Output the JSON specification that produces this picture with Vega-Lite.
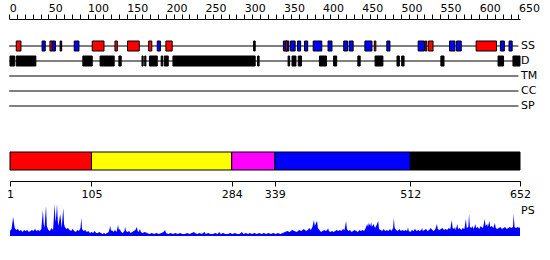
{
  "$schema": "https://vega.github.io/schema/vega-lite/v6.json",
  "padding": {"top": 2, "left": 0, "right": 0, "bottom": 0},
  "background": "white",
  "config": {"view": {"stroke": null}, "font": "DejaVu Sans"},
  "spacing": 30,
  "bounds": "flush",
  "resolve": {"scale": {"x": "independent", "y": "independent", "color": "independent"}, "axis": {"x": "independent", "y": "independent"}},
  "vconcat": [
    {
      "width": 550,
      "height": 90,
      "resolve": {"axis": {"x": "independent"}},
      "layer": [
        {
          "data": {"values": [
            {"track": "SS", "start": 0, "end": 650},
            {"track": "D", "start": 0, "end": 650},
            {"track": "TM", "start": 0, "end": 650},
            {"track": "CC", "start": 0, "end": 650},
            {"track": "SP", "start": 0, "end": 650}
          ]},
          "mark": {"type": "rule", "color": "black", "strokeWidth": 1},
          "encoding": {
            "x": {
              "field": "start", "type": "quantitative",
              "scale": {"domain": [0, 652], "range": [9.2, 520], "nice": false, "zero": false},
              "axis": {
                "orient": "top", "title": null, "grid": false, "domain": true, "ticks": true, "labels": false, "offset": 12,
                "values": [0,10,20,30,40,50,60,70,80,90,100,110,120,130,140,150,160,170,180,190,200,210,220,230,240,250,260,270,280,290,300,310,320,330,340,350,360,370,380,390,400,410,420,430,440,450,460,470,480,490,500,510,520,530,540,550,560,570,580,590,600,610,620,630,640,650],
                "tickSize": 5, "tickWidth": 1, "tickColor": "black", "domainColor": "black", "domainWidth": 1
              }
            },
            "x2": {"field": "end"},
            "y": {"field": "track", "type": "nominal", "scale": {"type": "point", "domain": ["SS", "D", "TM", "CC", "SP"], "padding": 1}, "axis": null}
          }
        },
        {
          "data": {"values": [
            {"track": "SS", "start": 9, "end": 15, "type": "H"},
            {"track": "SS", "start": 42, "end": 46, "type": "E"},
            {"track": "SS", "start": 52, "end": 55, "type": "H"},
            {"track": "SS", "start": 55, "end": 59, "type": "E"},
            {"track": "SS", "start": 65, "end": 67, "type": "C"},
            {"track": "SS", "start": 83, "end": 89, "type": "E"},
            {"track": "SS", "start": 106, "end": 121, "type": "H"},
            {"track": "SS", "start": 135, "end": 138, "type": "H"},
            {"track": "SS", "start": 151, "end": 166, "type": "H"},
            {"track": "SS", "start": 178, "end": 182, "type": "H"},
            {"track": "SS", "start": 189, "end": 193, "type": "E"},
            {"track": "SS", "start": 200, "end": 208, "type": "H"},
            {"track": "SS", "start": 312, "end": 314, "type": "C"},
            {"track": "SS", "start": 350, "end": 357, "type": "E"},
            {"track": "SS", "start": 353, "end": 355, "type": "H"},
            {"track": "SS", "start": 359, "end": 365, "type": "E"},
            {"track": "SS", "start": 368, "end": 372, "type": "E"},
            {"track": "SS", "start": 377, "end": 381, "type": "E"},
            {"track": "SS", "start": 388, "end": 399, "type": "E"},
            {"track": "SS", "start": 407, "end": 412, "type": "E"},
            {"track": "SS", "start": 427, "end": 432, "type": "E"},
            {"track": "SS", "start": 434, "end": 439, "type": "E"},
            {"track": "SS", "start": 454, "end": 463, "type": "E"},
            {"track": "SS", "start": 466, "end": 468, "type": "H"},
            {"track": "SS", "start": 482, "end": 486, "type": "E"},
            {"track": "SS", "start": 522, "end": 530, "type": "E"},
            {"track": "SS", "start": 531, "end": 533, "type": "H"},
            {"track": "SS", "start": 535, "end": 541, "type": "H"},
            {"track": "SS", "start": 562, "end": 569, "type": "E"},
            {"track": "SS", "start": 571, "end": 577, "type": "E"},
            {"track": "SS", "start": 596, "end": 622, "type": "H"},
            {"track": "SS", "start": 627, "end": 632, "type": "E"},
            {"track": "SS", "start": 638, "end": 642, "type": "E"},
            {"track": "D", "start": 1, "end": 7, "type": "D"},
            {"track": "D", "start": 9, "end": 34, "type": "D"},
            {"track": "D", "start": 94, "end": 106, "type": "D"},
            {"track": "D", "start": 116, "end": 134, "type": "D"},
            {"track": "D", "start": 140, "end": 143, "type": "D"},
            {"track": "D", "start": 169.5, "end": 171, "type": "D"},
            {"track": "D", "start": 173, "end": 174.5, "type": "D"},
            {"track": "D", "start": 179, "end": 189, "type": "D"},
            {"track": "D", "start": 194, "end": 196, "type": "D"},
            {"track": "D", "start": 198, "end": 203, "type": "D"},
            {"track": "D", "start": 209, "end": 314, "type": "D"},
            {"track": "D", "start": 317, "end": 319, "type": "D"},
            {"track": "D", "start": 356, "end": 358, "type": "D"},
            {"track": "D", "start": 361, "end": 366, "type": "D"},
            {"track": "D", "start": 369, "end": 373, "type": "D"},
            {"track": "D", "start": 396, "end": 405, "type": "D"},
            {"track": "D", "start": 414, "end": 418, "type": "D"},
            {"track": "D", "start": 445, "end": 448, "type": "D"},
            {"track": "D", "start": 467, "end": 477, "type": "D"},
            {"track": "D", "start": 495, "end": 498, "type": "D"},
            {"track": "D", "start": 501, "end": 504, "type": "D"},
            {"track": "D", "start": 551, "end": 555, "type": "D"},
            {"track": "D", "start": 624, "end": 631, "type": "D"},
            {"track": "D", "start": 643, "end": 652, "type": "D"}
          ]},
          "mark": {"type": "bar", "size": 10, "stroke": "black", "strokeWidth": 1},
          "encoding": {
            "x": {"field": "start", "type": "quantitative", "axis": null},
            "x2": {"field": "end"},
            "y": {"field": "track", "type": "nominal"},
            "color": {"field": "type", "type": "nominal", "scale": {"domain": ["H", "E", "C", "D"], "range": ["#ff0000", "#0000ff", "#000000", "#000000"]}, "legend": null}
          }
        },
        {
          "data": {"values": [
            {"track": "SS", "pos": 652},
            {"track": "D", "pos": 652},
            {"track": "TM", "pos": 652},
            {"track": "CC", "pos": 652},
            {"track": "SP", "pos": 652}
          ]},
          "mark": {"type": "text", "align": "left", "baseline": "middle", "dx": 1, "fontSize": 11, "font": "DejaVu Sans", "color": "black"},
          "encoding": {
            "x": {
              "field": "pos", "type": "quantitative",
              "axis": {
                "orient": "top", "title": null, "grid": false, "domain": false, "ticks": false, "labels": true, "offset": 12,
                "values": [0,50,100,150,200,250,300,350,400,450,500,550,600,650], "format": "d",
                "labelColor": "black", "labelFontSize": 11, "labelFont": "DejaVu Sans", "labelAlign": "left",
                "labelPadding": 6, "labelOverlap": false, "labelBound": false, "labelFlush": false
              }
            },
            "y": {"field": "track", "type": "nominal"},
            "text": {"field": "track"}
          }
        }
      ]
    },
    {
      "bounds": "flush",
      "spacing": 33,
      "resolve": {"scale": {"x": "independent", "y": "independent", "color": "independent"}, "axis": {"x": "independent", "y": "independent"}},
      "vconcat": [
        {
          "width": 550,
          "height": 20,
          "data": {"values": [
            {"name": "d1", "start": 1, "end": 105},
            {"name": "d2", "start": 105, "end": 284},
            {"name": "d3", "start": 284, "end": 339},
            {"name": "d4", "start": 339, "end": 512},
            {"name": "d5", "start": 512, "end": 652}
          ]},
          "mark": {"type": "bar", "stroke": "black", "strokeWidth": 1},
          "encoding": {
            "x": {
              "field": "start", "type": "quantitative",
              "scale": {"domain": [1, 652], "range": [10, 520], "nice": false, "zero": false},
              "axis": {
                "orient": "bottom", "title": null, "grid": false, "offset": 10,
                "values": [1, 105, 284, 339, 512, 652], "format": "d",
                "tickSize": 5, "tickColor": "black", "domainColor": "black",
                "labelColor": "black", "labelFontSize": 11, "labelFont": "DejaVu Sans",
                "labelPadding": 2, "labelOverlap": false, "labelBound": false, "labelFlush": false
              }
            },
            "x2": {"field": "end"},
            "color": {"field": "name", "type": "nominal", "scale": {"domain": ["d1", "d2", "d3", "d4", "d5"], "range": ["#ff0000", "#ffff00", "#ff00ff", "#0000ff", "#000000"]}, "legend": null}
          }
        },
        {
          "width": 550,
          "height": 32,
          "layer": [
            {
              "data": {"values": [
                {"r":1,"s":5},{"r":3,"s":7},{"r":5,"s":19},{"r":7,"s":8},{"r":9,"s":6},{"r":11,"s":7},{"r":13,"s":5},{"r":15,"s":6},{"r":17,"s":4},{"r":19,"s":6},{"r":21,"s":5},{"r":23,"s":6},{"r":25,"s":4},{"r":27,"s":5},{"r":29,"s":6},{"r":31,"s":5},{"r":33,"s":7},{"r":35,"s":5},{"r":37,"s":6},{"r":39,"s":5},{"r":41,"s":7},{"r":43,"s":26},{"r":44,"s":12},{"r":45,"s":8},{"r":47,"s":30},{"r":48,"s":10},{"r":50,"s":6},{"r":52,"s":5},{"r":54,"s":8},{"r":56,"s":6},{"r":58,"s":32},{"r":59,"s":14},{"r":60,"s":20},{"r":61,"s":32},{"r":62,"s":15},{"r":63,"s":10},{"r":65,"s":22},{"r":66,"s":16},{"r":67,"s":8},{"r":69,"s":28},{"r":70,"s":12},{"r":71,"s":9},{"r":73,"s":7},{"r":75,"s":8},{"r":77,"s":6},{"r":79,"s":5},{"r":81,"s":7},{"r":83,"s":5},{"r":85,"s":4},{"r":87,"s":6},{"r":89,"s":5},{"r":91,"s":8},{"r":92,"s":18},{"r":93,"s":7},{"r":95,"s":5},{"r":97,"s":6},{"r":99,"s":4},{"r":101,"s":5},{"r":103,"s":3},{"r":105,"s":4},{"r":107,"s":3},{"r":109,"s":5},{"r":111,"s":3},{"r":113,"s":3},{"r":115,"s":4},{"r":117,"s":3},{"r":119,"s":2},{"r":121,"s":3},{"r":123,"s":2},{"r":125,"s":3},{"r":127,"s":4},{"r":129,"s":10},{"r":130,"s":5},{"r":131,"s":6},{"r":133,"s":4},{"r":135,"s":6},{"r":137,"s":4},{"r":139,"s":11},{"r":140,"s":6},{"r":141,"s":7},{"r":143,"s":4},{"r":145,"s":3},{"r":147,"s":5},{"r":148,"s":9},{"r":149,"s":5},{"r":151,"s":4},{"r":153,"s":5},{"r":155,"s":3},{"r":157,"s":4},{"r":159,"s":5},{"r":161,"s":6},{"r":163,"s":9},{"r":164,"s":5},{"r":165,"s":4},{"r":167,"s":7},{"r":168,"s":4},{"r":170,"s":3},{"r":173,"s":4},{"r":176,"s":3},{"r":179,"s":2},{"r":182,"s":3},{"r":185,"s":2},{"r":188,"s":3},{"r":191,"s":2},{"r":194,"s":3},{"r":197,"s":4},{"r":199,"s":6},{"r":200,"s":3},{"r":203,"s":2},{"r":206,"s":3},{"r":209,"s":2},{"r":212,"s":3},{"r":215,"s":2},{"r":218,"s":3},{"r":221,"s":2},{"r":224,"s":2},{"r":227,"s":3},{"r":230,"s":2},{"r":233,"s":3},{"r":236,"s":4},{"r":237,"s":3},{"r":240,"s":2},{"r":243,"s":3},{"r":246,"s":2},{"r":249,"s":4},{"r":251,"s":2},{"r":254,"s":3},{"r":257,"s":2},{"r":260,"s":2},{"r":263,"s":3},{"r":266,"s":2},{"r":268,"s":4},{"r":270,"s":2},{"r":273,"s":3},{"r":276,"s":2},{"r":279,"s":2},{"r":282,"s":3},{"r":285,"s":2},{"r":288,"s":3},{"r":291,"s":2},{"r":294,"s":2},{"r":297,"s":4},{"r":299,"s":2},{"r":302,"s":3},{"r":305,"s":2},{"r":307,"s":3},{"r":310,"s":2},{"r":313,"s":3},{"r":316,"s":2},{"r":319,"s":3},{"r":322,"s":2},{"r":325,"s":3},{"r":328,"s":2},{"r":331,"s":3},{"r":334,"s":2},{"r":337,"s":3},{"r":340,"s":2},{"r":343,"s":3},{"r":346,"s":2},{"r":349,"s":3},{"r":352,"s":4},{"r":355,"s":5},{"r":358,"s":4},{"r":361,"s":6},{"r":364,"s":5},{"r":367,"s":4},{"r":370,"s":6},{"r":373,"s":5},{"r":376,"s":7},{"r":379,"s":5},{"r":381,"s":6},{"r":383,"s":8},{"r":385,"s":6},{"r":387,"s":9},{"r":389,"s":16},{"r":390,"s":10},{"r":391,"s":12},{"r":393,"s":15},{"r":394,"s":8},{"r":396,"s":6},{"r":398,"s":4},{"r":400,"s":5},{"r":402,"s":6},{"r":404,"s":5},{"r":406,"s":6},{"r":407,"s":8},{"r":408,"s":5},{"r":410,"s":4},{"r":412,"s":5},{"r":414,"s":4},{"r":416,"s":5},{"r":418,"s":6},{"r":420,"s":5},{"r":422,"s":6},{"r":424,"s":5},{"r":426,"s":7},{"r":428,"s":6},{"r":430,"s":15},{"r":431,"s":7},{"r":433,"s":5},{"r":435,"s":6},{"r":437,"s":4},{"r":439,"s":5},{"r":441,"s":6},{"r":443,"s":5},{"r":445,"s":4},{"r":447,"s":6},{"r":449,"s":5},{"r":451,"s":6},{"r":453,"s":5},{"r":455,"s":8},{"r":457,"s":12},{"r":458,"s":9},{"r":459,"s":13},{"r":461,"s":10},{"r":462,"s":14},{"r":463,"s":9},{"r":465,"s":12},{"r":467,"s":8},{"r":469,"s":11},{"r":471,"s":15},{"r":472,"s":7},{"r":474,"s":6},{"r":476,"s":5},{"r":478,"s":7},{"r":480,"s":5},{"r":482,"s":6},{"r":484,"s":5},{"r":486,"s":7},{"r":488,"s":5},{"r":490,"s":8},{"r":491,"s":18},{"r":492,"s":8},{"r":494,"s":6},{"r":496,"s":5},{"r":498,"s":7},{"r":500,"s":5},{"r":502,"s":6},{"r":504,"s":5},{"r":506,"s":6},{"r":508,"s":5},{"r":509,"s":9},{"r":510,"s":5},{"r":512,"s":4},{"r":514,"s":6},{"r":516,"s":5},{"r":518,"s":7},{"r":520,"s":5},{"r":522,"s":6},{"r":524,"s":5},{"r":526,"s":6},{"r":527,"s":8},{"r":528,"s":5},{"r":530,"s":6},{"r":532,"s":7},{"r":534,"s":5},{"r":536,"s":6},{"r":538,"s":8},{"r":540,"s":6},{"r":542,"s":5},{"r":544,"s":7},{"r":546,"s":12},{"r":547,"s":7},{"r":549,"s":6},{"r":551,"s":7},{"r":553,"s":8},{"r":555,"s":6},{"r":557,"s":7},{"r":559,"s":6},{"r":561,"s":8},{"r":563,"s":7},{"r":565,"s":16},{"r":566,"s":8},{"r":568,"s":7},{"r":569,"s":9},{"r":570,"s":6},{"r":572,"s":12},{"r":573,"s":7},{"r":575,"s":8},{"r":577,"s":6},{"r":579,"s":8},{"r":581,"s":7},{"r":583,"s":17},{"r":584,"s":8},{"r":586,"s":9},{"r":587,"s":22},{"r":588,"s":9},{"r":590,"s":8},{"r":591,"s":10},{"r":593,"s":7},{"r":595,"s":12},{"r":596,"s":8},{"r":598,"s":9},{"r":600,"s":7},{"r":602,"s":10},{"r":604,"s":8},{"r":605,"s":9},{"r":607,"s":17},{"r":608,"s":10},{"r":610,"s":12},{"r":611,"s":9},{"r":613,"s":15},{"r":614,"s":9},{"r":616,"s":10},{"r":618,"s":8},{"r":620,"s":13},{"r":621,"s":8},{"r":623,"s":7},{"r":625,"s":8},{"r":627,"s":9},{"r":629,"s":7},{"r":631,"s":8},{"r":633,"s":9},{"r":635,"s":7},{"r":637,"s":8},{"r":639,"s":9},{"r":641,"s":8},{"r":643,"s":9},{"r":644,"s":22},{"r":645,"s":9},{"r":647,"s":8},{"r":649,"s":9},{"r":651,"s":8},{"r":652,"s":9}
              ]},
              "mark": {"type": "area", "color": "#0000ff", "interpolate": "linear"},
              "encoding": {
                "x": {"field": "r", "type": "quantitative", "scale": {"domain": [1, 652], "range": [10, 520], "nice": false, "zero": false}, "axis": null},
                "y": {"field": "s", "type": "quantitative", "scale": {"domain": [0, 32], "nice": false}, "axis": null}
              }
            },
            {
              "data": {"values": [{"label": "PS", "pos": 652, "lev": 25}]},
              "mark": {"type": "text", "align": "left", "baseline": "middle", "dx": 1, "fontSize": 11, "font": "DejaVu Sans", "color": "black"},
              "encoding": {
                "x": {"field": "pos", "type": "quantitative"},
                "y": {"field": "lev", "type": "quantitative"},
                "text": {"field": "label"}
              }
            }
          ]
        }
      ]
    }
  ]
}
